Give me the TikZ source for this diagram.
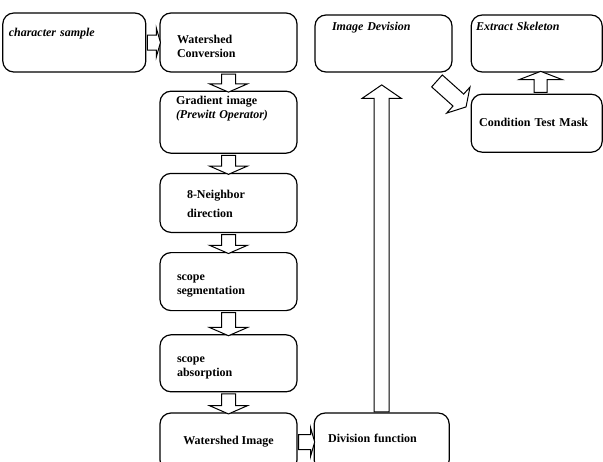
\documentclass[tikz,border=0pt]{standalone}
\usepackage{fontspec}
\setmainfont{Liberation Serif}
\usetikzlibrary{shapes.arrows, positioning}

% struts for the space above the first line and below the last line
\newcommand{\tpad}[1]{\rule{0pt}{#1}}
\newcommand{\bpad}[1]{\rule[-#1]{0pt}{#1}}

\begin{document}
\begin{tikzpicture}[x=1pt, y=-1pt]
	\tikzset{box/.style={draw, rounded corners=11pt, line width=1.2pt, align=left, inner sep=0pt, font=\fontsize{12}{14}\selectfont\bfseries},
		blockarr/.style={draw, single arrow, line width=1pt, fill=white, inner sep=0pt, sloped, allow upside down, single arrow head indent=0pt},
		darr/.style={blockarr, text height=6.5pt, text depth=6.5pt, single arrow head extend=12pt, single arrow tip angle=133},
		uarr/.style={blockarr, text height=6pt, text depth=6pt, single arrow head extend=15pt, single arrow tip angle=138},
		rarr/.style={blockarr, text height=7pt, text depth=7pt, single arrow head extend=7pt, single arrow tip angle=148},
		bigarr/.style={blockarr, text height=7pt, text depth=7pt, single arrow head extend=12pt, single arrow tip angle=111},
		diagarr/.style={blockarr, text height=7.5pt, text depth=7.5pt, single arrow head extend=9.5pt, single arrow tip angle=119}}

	\useasboundingbox (0,0) rectangle (603,461);

	% watershed column
	\node[box, minimum width=137pt, text width=103pt] (wc) at (228.5,42.5) {\tpad{30pt}Watershed\\Conversion\bpad{15pt}};
	\node[box, minimum width=137pt, text width=105pt, below=18pt of wc] (grad) {\tpad{13pt}Gradient image\\\textit{(Prewitt Operator)}\bpad{35pt}};
	\node[box, minimum width=137pt, text width=83pt, below=19pt of grad] (nbr) {\tpad{25pt}8-Neighbor\\[5pt]direction\bpad{15pt}};
	\node[box, minimum width=137pt, text width=103pt, below=19pt of nbr] (seg) {\tpad{28pt}scope\\segmentation\bpad{16pt}};
	\node[box, minimum width=137pt, text width=103pt, below=23pt of seg] (abs) {\tpad{28pt}scope\\absorption\bpad{15pt}};
	\node[box, minimum width=137pt, align=center, below=20pt of abs] (wi) {\tpad{31pt}Watershed Image\bpad{27pt}};

	\node[box, minimum width=143pt, text width=131pt, left=13pt of wc] (char) {\tpad{23pt}\textit{character sample}\bpad{36pt}};
	\node[box, minimum width=135pt, text width=107pt, right=16pt of wi] (df) {\tpad{29pt}Division function\bpad{29pt}};

	% right part
	\node[box, minimum width=137pt, text width=103pt] (idv) at (383.5,43.5) {\tpad{15pt}\textit{Image Devision}\bpad{42pt}};
	\node[box, minimum width=131pt, text width=121pt, right=18pt of idv] (ext) {\tpad{15pt}\textit{Extract Skeleton}\bpad{42pt}};
	\node[box, minimum width=131pt, text width=115pt, below=21pt of ext] (ctm) {\tpad{32pt}Condition Test Mask\bpad{26pt}};
	\coordinate (tip) at (465,106);

	\path (char) -- node[rarr, minimum height=13pt] {} (wc);
	\path (wc) -- node[darr, minimum height=18pt] {} (grad);
	\path (grad) -- node[darr, minimum height=19pt] {} (nbr);
	\path (nbr) -- node[darr, minimum height=19pt] {} (seg);
	\path (seg) -- node[darr, minimum height=23pt] {} (abs);
	\path (abs) -- node[darr, minimum height=20pt] {} (wi);
	\path (wi) -- node[rarr, minimum height=16pt] {} (df);
	\path (df.north) -- node[bigarr, pos=0, anchor=tail, minimum height=327pt] {} (df.north |- idv.south);
	\path ([shift={(-16,8)}]idv.south east) -- node[diagarr, pos=0, anchor=tail, minimum height=39pt] {} (tip);
	\path ([xshift=4pt]ctm.north) -- node[uarr, minimum height=21pt] {} ([xshift=4pt]ext.south);
\end{tikzpicture}
\end{document}
